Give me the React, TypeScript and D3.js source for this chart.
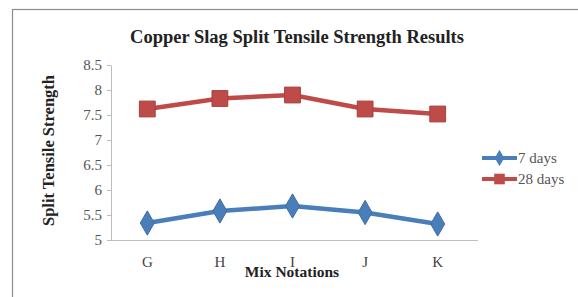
import { useEffect, useRef } from 'react';
import * as d3 from 'd3';

// Mix notations and strength values (MPa)
const categories = ['G', 'H', 'I', 'J', 'K'];
const days7 = [5.34, 5.58, 5.68, 5.55, 5.32];
const days28 = [7.62, 7.83, 7.9, 7.62, 7.52];
const yTicks = [5, 5.5, 6, 6.5, 7, 7.5, 8, 8.5];

const W = 578, H = 297;

export default function App() {
  const svgRef = useRef<SVGSVGElement>(null);

  useEffect(() => {
    if (!svgRef.current) return;
    const svg = d3.select(svgRef.current);
    svg.selectAll('*').remove();

    const font = '"Liberation Serif", "Times New Roman", serif';
    const m = { l: 111, r: 104, t: 65, b: 57 };

    svg.append('rect').attr('width', W).attr('height', H).attr('fill', '#fff');
    // outer frame
    svg.append('rect').attr('x', 12.5).attr('y', 9.5).attr('width', W).attr('height', H)
      .attr('fill', 'none').attr('stroke', '#8c8c8c').attr('stroke-width', 1.2);

    const x = d3.scaleBand().domain(categories).range([m.l, W - m.r]);
    const y = d3.scaleLinear().domain([5, 8.5]).range([H - m.b, m.t]);
    const cx = (c: string) => (x(c) ?? 0) + x.bandwidth() / 2;

    // title
    svg.append('text').attr('x', 297).attr('y', 43).attr('text-anchor', 'middle')
      .attr('font-family', font).attr('font-weight', 'bold').attr('font-size', 18.5)
      .attr('fill', '#222').text('Copper Slag Split Tensile Strength Results');

    // y axis
    const ya = svg.append('g').attr('transform', `translate(${m.l},0)`)
      .call(d3.axisLeft(y).tickValues(yTicks).tickSize(4).tickSizeOuter(0).tickFormat(d => String(d)));
    ya.select('.domain').attr('stroke', '#bdbdbd');
    ya.selectAll('line').attr('stroke', '#bdbdbd');
    ya.selectAll('text').attr('font-family', font).attr('font-size', 15).attr('fill', '#555').attr('x', -9);

    // x axis
    const xa = svg.append('g').attr('transform', `translate(0,${H - m.b})`)
      .call(d3.axisBottom(x).tickSize(0).tickSizeOuter(0));
    xa.select('.domain').attr('stroke', '#bdbdbd').attr('d', `M${m.l - 4},0.5H${W - m.r + 4}`);
    xa.selectAll('text').attr('font-family', font).attr('font-size', 15).attr('fill', '#444').attr('dy', 0).attr('y', 27);

    // axis titles
    svg.append('text').attr('transform', `translate(54,${(m.t + H - m.b) / 2 - 2}) rotate(-90)`)
      .attr('text-anchor', 'middle').attr('font-family', font).attr('font-weight', 'bold')
      .attr('font-size', 16.5).attr('fill', '#222').text('Split Tensile Strength');
    svg.append('text').attr('x', 292).attr('y', 277).attr('text-anchor', 'middle')
      .attr('font-family', font).attr('font-weight', 'bold').attr('font-size', 15.5)
      .attr('fill', '#222').text('Mix Notations');

    const series = [
      { name: '7 days', values: days7, color: '#4a7ebb', symbol: d3.symbolDiamond, size: 170 },
      { name: '28 days', values: days28, color: '#be4b48', symbol: d3.symbolSquare, size: 250 },
    ];

    const line = d3.line<number>().x((_, i) => cx(categories[i])).y(d => y(d));
    series.forEach(s => {
      svg.append('path').datum(s.values).attr('d', line).attr('fill', 'none')
        .attr('stroke', s.color).attr('stroke-width', 4.5).attr('stroke-linejoin', 'round');
      svg.selectAll(null).data(s.values).enter().append('path')
        .attr('d', d3.symbol(s.symbol, s.size)())
        .attr('transform', (d, i) => `translate(${cx(categories[i])},${y(d)})`)
        .attr('fill', s.color).attr('stroke', d3.color(s.color)!.darker(0.4).toString()).attr('stroke-width', 1);
    });

    // legend
    series.forEach((s, i) => {
      const ly = 158 + i * 21;
      svg.append('line').attr('x1', 482).attr('x2', 517).attr('y1', ly).attr('y2', ly)
        .attr('stroke', s.color).attr('stroke-width', 4);
      svg.append('path').attr('d', d3.symbol(s.symbol, s.size * 0.45)())
        .attr('transform', `translate(499.5,${ly})`).attr('fill', s.color);
      svg.append('text').attr('x', 518).attr('y', ly + 5).attr('font-family', font)
        .attr('font-size', 15).attr('fill', '#555').text(s.name);
    });
  }, []);

  return <svg ref={svgRef} width={W} height={H}
    style={{ position: 'absolute', left: 0, top: 0, display: 'block' }} />;
}
